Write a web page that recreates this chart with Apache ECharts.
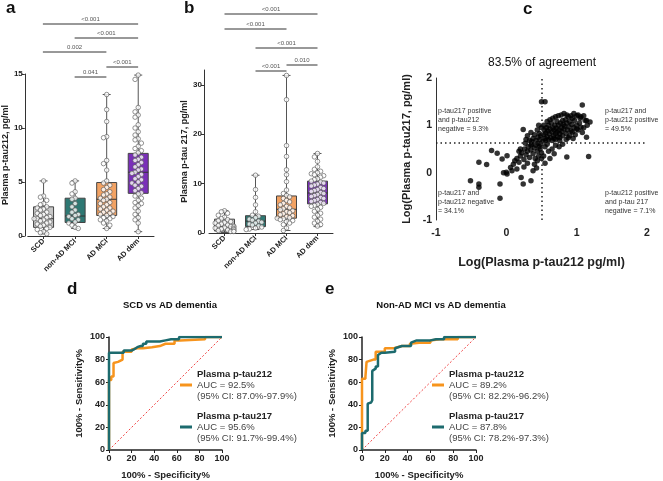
<!DOCTYPE html>
<html><head><meta charset="utf-8">
<script src="https://cdn.jsdelivr.net/npm/echarts@6/dist/echarts.min.js"></script>
<style>html,body{margin:0;padding:0;background:#fff}#c{width:663px;height:481px}</style>
</head><body><div id="c"></div>
<script>
// ---------- DATA ----------
const groups = ['SCD', 'non-AD MCI', 'AD MCI', 'AD dem'];

// Panel a: plasma p-tau212 (pg/ml)
const scd212 = [5.1,3.7,3.6,3.3,3.0,2.9,2.7,2.6,2.5,2.4,2.2,2.1,2.0,1.9,1.8,1.7,1.6,1.6,1.5,1.4,1.3,1.2,1.1,1.0,0.9,0.8,0.7,0.6,0.4,0.3,0.2];
const nonad212 = [5.1,4.9,4.1,3.9,3.5,3.4,3.0,2.7,2.4,2.2,2.0,1.9,1.8,1.6,1.5,1.3,1.2,1.0,0.8,0.7];
const admci212 = [13.1,11.7,10.6,9.2,9.1,7.0,6.7,6.1,5.1,4.9,4.7,4.5,4.3,4.1,3.9,3.8,3.6,3.5,3.4,3.3,3.1,3.0,2.9,2.7,2.6,2.5,2.4,2.3,2.2,2.1,2.0,1.9,1.8,1.7,1.6,1.5,1.4,1.2,1.0,0.7];
const addem212 = [14.9,14.5,11.9,11.5,11.2,11.0,10.3,10.0,9.65,9.35,9.0,8.9,8.6,8.3,8.1,7.9,7.7,7.5,7.3,7.1,7.0,6.8,6.6,6.4,6.2,6.1,5.9,5.8,5.7,5.5,5.3,5.2,5.0,4.9,4.7,4.6,4.4,4.2,4.0,3.9,3.7,3.5,3.3,3.1,3.0,2.8,2.6,2.3,2.0,1.7,1.5,1.2,0.4];
// [min, Q1, median, Q3, max]
const box212 = [[0.2,0.8,1.6,2.7,5.1],[0.7,1.25,1.85,3.5,5.1],[0.7,1.9,3.4,4.95,13.1],[0.4,3.95,5.9,7.65,14.9]];

// Panel b: plasma p-tau217 (pg/ml)
const scd217 = [4.5,4.3,4.0,3.6,3.2,2.9,2.7,2.5,2.3,2.1,2.0,1.8,1.6,1.5,1.4,1.3,1.2,1.1,1.0,0.9,0.8,0.7,0.6,0.5,0.4,0.3,0.3];
const nonad217 = [11.7,8.8,7.2,5.7,4.3,3.6,3.4,3.1,2.8,2.6,2.4,2.2,2.0,1.8,1.6,1.4,1.2,1.0,0.8,0.7];
const admci217 = [31.9,27.0,17.7,15.5,12.8,11.8,10.4,8.7,8.0,7.6,7.3,7.0,6.6,6.3,6.0,5.7,5.4,5.1,4.9,4.7,4.5,4.3,4.1,3.9,3.7,3.5,3.3,3.1,3.0,2.9,2.7,2.5,2.3,2.0,1.7,1.0,0.5];
const addem217 = [16.1,15.4,14.5,13.4,12.9,12.5,12.2,12.0,11.8,11.6,11.3,11.0,10.8,10.5,10.3,10.1,9.9,9.7,9.5,9.2,9.0,8.8,8.6,8.4,8.2,8.0,7.8,7.6,7.4,7.2,7.0,6.8,6.6,6.4,6.2,6.0,5.8,5.6,5.4,5.2,4.8,4.4,4.0,3.6,3.2,2.8,2.4,2.0,1.7,1.4];
const box217 = [[0.1,0.4,1.3,2.8,4.5],[0.7,1.3,2.4,3.5,11.7],[0.5,3.0,4.8,7.5,31.9],[1.3,5.9,8.1,10.5,16.1]];

// Significance brackets: [groupFrom, groupTo], p-value label
const bracketPairsA = [[0,3],[1,3],[0,2],[1,2],[2,3]];
const bracketLabelsA = ['<0.001','<0.001','0.002','0.041','<0.001'];
const bracketPairsB = [[0,3],[0,2],[1,3],[2,3],[1,2]];
const bracketLabelsB = ['<0.001','<0.001','<0.001','0.010','<0.001'];

// Panel c: [log p-tau212, log p-tau217]
const agreementPts = [
 [-0.51,-0.17],[-0.39,-0.24],[-0.39,-0.31],[-0.09,-0.24],[-0.09,-0.54],[-0.04,0.0],[0.01,-0.03],[0.0,0.01],[0.08,0.04],[0.21,-0.1],
 [0.24,-0.24],[0.35,-0.17],[0.38,0.04],[-0.21,0.47],[-0.13,0.41],[0.01,0.36],[-0.39,0.22],[-0.28,0.17],[-0.06,0.29],[0.06,0.11],
 [0.10,0.18],[0.12,0.25],[0.15,0.30],[0.18,0.22],[0.2,0.35],[0.22,0.42],[0.25,0.28],[0.26,0.5],[0.28,0.38],[0.3,0.45],
 [0.31,0.55],[0.33,0.32],[0.35,0.48],[0.36,0.6],[0.38,0.4],[0.4,0.52],[0.41,0.3],[0.42,0.58],[0.44,0.45],[0.45,0.62],
 [0.46,0.35],[0.47,0.55],[0.48,0.5],[0.49,0.6],[0.5,0.42],[0.3,0.2],[0.15,0.08],[0.25,0.12],[0.4,0.18],[0.44,0.25],
 [0.35,0.58],[0.2,0.5],[0.27,0.62],[0.5,0.3],[0.43,0.1],[0.18,0.45],
 [0.24,0.91],[0.28,0.7],[0.3,0.78],[0.33,0.68],[0.35,0.85],[0.38,0.72],[0.4,0.8],[0.42,0.68],[0.44,0.9],[0.45,0.75],
 [0.47,0.83],[0.48,0.7],[0.5,0.95],[0.49,0.78],[0.36,0.66],[0.46,1.0],[0.5,1.5],
 [0.55,1.5],[1.08,1.43],[1.19,1.07],[1.14,0.75],[1.15,1.0],[1.12,1.1],[1.1,0.95],[1.08,0.85],[1.05,1.15],[1.04,1.05],
 [1.02,0.9],[1.0,1.2],[1.0,1.0],[0.98,0.8],[0.97,1.1],[0.96,0.95],[0.95,0.72],[0.94,1.15],[0.93,1.02],[0.92,0.88],
 [0.9,1.08],[0.9,0.78],[0.89,0.97],[0.88,1.18],[0.87,0.9],[0.86,1.05],[0.85,0.7],[0.85,0.83],[0.84,1.12],[0.83,0.98],
 [0.82,0.92],[0.81,1.02],[0.8,0.78],[0.8,1.1],[0.79,0.87],[0.78,0.95],[0.77,1.05],[0.76,0.68],[0.76,0.82],[0.75,0.9],
 [0.74,1.0],[0.73,0.76],[0.72,1.08],[0.72,0.86],[0.71,0.94],[0.7,0.7],[0.7,0.82],[0.69,1.0],[0.68,0.9],[0.67,0.78],
 [0.66,0.95],[0.65,0.68],[0.65,0.86],[0.64,1.05],[0.63,0.74],[0.62,0.92],[0.61,0.82],[0.6,0.7],[0.6,1.0],[0.59,0.88],
 [0.58,0.76],[0.57,0.95],[0.56,0.68],[0.56,0.84],[0.55,0.72],[0.54,0.9],[0.53,0.8],[0.52,0.67],[0.53,1.0],[0.58,1.08],
 [0.62,1.12],[0.66,1.15],[0.7,1.18],[0.74,1.2],[0.78,1.22],[0.82,1.25],[0.86,1.22],[0.92,1.2],[0.96,1.25],[1.02,1.22],
 [1.06,1.18],[1.1,1.2],[1.14,1.1],[0.88,0.74],[0.94,0.86],[1.0,0.92],[1.06,0.96],[0.68,0.72],[0.76,0.74],
 [0.86,0.33],[1.17,0.34],[0.55,0.55],[0.6,0.45],[0.58,0.6],[0.65,0.5],[0.7,0.58],[0.53,0.35],[0.62,0.3],[0.75,0.55],
 [0.55,0.2],[0.68,0.4],[0.8,0.6]
];
const cutoff212 = 0.51;
const cutoff217 = 0.64;
const quadrantTexts = ['p-tau217 positive\nand p-tau212\nnegative = 9.3%','p-tau217 and\np-tau212 positive\n= 49.5%','p-tau217 and\np-tau212 negative\n= 34.1%','p-tau212 positive\nand p-tau 217\nnegative = 7.1%'];

// ROC curves: [100% - Specificity, Sensitivity]
const rocD212 = [[0,0],[0,62],[2,62],[2,65],[4,65],[4,77],[8,78],[12,80],[12,87],[20,87],[20,89],[25,90],[30,90],[30,91],[38,91],[38,92],[45,92],[45,93],[50,94],[58,94],[58,97],[63,97],[63,98],[85,98],[85,100],[100,100]];
const rocD217 = [[0,0],[0,86],[13,86],[13,88],[20,88],[22,89],[25,91],[28,92],[30,92],[30,94],[33,94],[33,96],[45,96],[50,97],[55,98],[62,98],[62,100],[100,100]];
const rocE212 = [[0,0],[0,63],[3,63],[3,65],[4,65],[4,78],[10,80],[12,80],[12,87],[20,87],[20,90],[28,90],[28,91],[35,92],[42,92],[42,94],[50,95],[60,95],[60,97],[68,98],[84,98],[84,100],[100,100]];
const rocE217 = [[0,0],[0,15],[3,15],[3,17],[5,17],[5,41],[8,42],[9,44],[9,70],[12,72],[12,74],[14,74],[14,84],[17,86],[20,86],[20,87],[29,87],[29,90],[35,92],[43,92],[43,95],[48,97],[60,97],[65,98],[72,98],[72,100],[100,100]];
const legendD = {'d212':['Plasma p-tau212','AUC = 92.5%','(95% CI: 87.0%-97.9%)'],'d217':['Plasma p-tau217','AUC = 95.6%','(95% CI: 91.7%-99.4%)']};
const legendE = {'e212':['Plasma p-tau212','AUC = 89.2%','(95% CI: 82.2%-96.2%)'],'e217':['Plasma p-tau217','AUC = 87.8%','(95% CI: 78.2%-97.3%)']};

// ---------- STYLE / LAYOUT ----------
const FONT = "'Liberation Sans', Arial, sans-serif";
const boxColors = ['#C8C8C8', '#2E7873', '#F2A263', '#7A2FB9'];
const ORANGE = '#F7941D', TEAL = '#1D6B6E';
const bracketYA = [24, 38, 52, 77, 67];
const bracketYB = [14, 29, 48, 65, 71];

function swarm(vals, thr, step, maxSlot) {
  const placed = [];
  return vals.map(v => {
    let k = 0;
    while (k < maxSlot && placed.some(p => p.k === k && Math.abs(p.v - v) < thr)) k++;
    placed.push({v, k});
    return k === 0 ? 0 : (k % 2 ? -1 : 1) * Math.ceil(k / 2) * step;
  });
}
function dotData(lists, thr) {
  const out = [];
  lists.forEach((vals, gi) => {
    const offs = swarm(vals, thr, 0.1, 6);
    vals.forEach((v, j) => out.push([gi + offs[j], v]));
  });
  return out;
}
function boxRender(params, api) {
  const i = api.value(0);
  const x = api.coord([i, 0])[0];
  const y = k => api.coord([i, api.value(k)])[1];
  const yMin = y(1), yQ1 = y(2), yMed = y(3), yQ3 = y(4), yMax = y(5);
  const hw = 10, cw = 4, wc = '#555';
  return {type: 'group', children: [
    {type: 'line', shape: {x1: x, y1: yMax, x2: x, y2: yQ3}, style: {stroke: wc, lineWidth: 1}},
    {type: 'line', shape: {x1: x, y1: yQ1, x2: x, y2: yMin}, style: {stroke: wc, lineWidth: 1}},
    {type: 'line', shape: {x1: x - cw, y1: yMax, x2: x + cw, y2: yMax}, style: {stroke: wc, lineWidth: 1}},
    {type: 'line', shape: {x1: x - cw, y1: yMin, x2: x + cw, y2: yMin}, style: {stroke: wc, lineWidth: 1}},
    {type: 'rect', shape: {x: x - hw, y: yQ3, width: 2 * hw, height: yQ1 - yQ3}, style: {fill: boxColors[i], stroke: '#444', lineWidth: 1}},
    {type: 'line', shape: {x1: x - hw, y1: yMed, x2: x + hw, y2: yMed}, style: {stroke: '#333', lineWidth: 1}}
  ]};
}
function bracketRender(labels) {
  return function (params, api) {
    const p1 = api.coord([api.value(0), api.value(2)]);
    const p2 = api.coord([api.value(1), api.value(2)]);
    return {type: 'group', children: [
      {type: 'line', shape: {x1: p1[0], y1: p1[1], x2: p2[0], y2: p2[1]}, style: {stroke: '#333', lineWidth: 1}},
      {type: 'text', style: {x: (p1[0] + p2[0]) / 2, y: p1[1] - 2, text: labels[params.dataIndex], textAlign: 'center', textVerticalAlign: 'bottom', font: '6px ' + FONT, fill: '#555'}}
    ]};
  };
}
const lbl = (size, bold) => ({fontFamily: FONT, fontSize: size, fontWeight: bold ? 'bold' : 'normal', color: '#222'});
const axLine = {show: true, onZero: false, lineStyle: {color: '#333', width: 1}};
const axLineThick = {show: true, onZero: false, lineStyle: {color: '#222', width: 1.5}};
function catX(gi) {
  return {type: 'value', gridIndex: gi, min: -0.5, max: 3.5, axisLine: axLine,
    axisTick: {show: true, customValues: [0,1,2,3], length: 3, lineStyle: {color: '#333'}},
    axisLabel: Object.assign({customValues: [0,1,2,3], formatter: v => groups[v], rotate: 45, margin: 4}, lbl(7.5, true)),
    splitLine: {show: false}};
}
function legendFmt(map) {
  return name => '{b|' + map[name][0] + '}\n{n|' + map[name][1] + '}\n{n|' + map[name][2] + '}';
}
const legendRich = {
  b: {fontFamily: FONT, fontSize: 9.5, fontWeight: 'bold', color: '#222', lineHeight: 11},
  n: {fontFamily: FONT, fontSize: 9.5, color: '#444', lineHeight: 11}
};
function gtext(x, y, text, size, bold, align) {
  return {type: 'text', x: x, y: y, style: {text: text, font: (bold ? 'bold ' : '') + size + 'px ' + FONT, fill: '#111', textAlign: align || 'left', textVerticalAlign: 'top'}};
}
function qtext(x, y, text) {
  return {type: 'text', x: x, y: y, style: {text: text, font: '7px ' + FONT, fill: '#333', lineHeight: 9, textAlign: 'left', textVerticalAlign: 'top'}};
}

const option = {
  animation: false,
  backgroundColor: '#fff',
  grid: [
    {left: 27, top: 74, width: 127, height: 162},
    {left: 209, top: 70, width: 124, height: 163},
    {left: 436, top: 78, width: 211, height: 142},
    {left: 109, top: 337, width: 113, height: 113},
    {left: 362, top: 337, width: 114, height: 113},
    {left: 27, top: 0, width: 127, height: 80},
    {left: 209, top: 0, width: 124, height: 80}
  ],
  xAxis: [
    catX(0), catX(1),
    {type: 'value', gridIndex: 2, min: -1, max: 2, interval: 1, axisLine: {show: false, onZero: false}, axisTick: {show: false},
      axisLabel: Object.assign({margin: 8}, lbl(10.5, true)), splitLine: {show: false},
      name: 'Log(Plasma p-tau212 pg/ml)', nameLocation: 'middle', nameGap: 36, nameTextStyle: lbl(12.5, true)},
    {type: 'value', gridIndex: 3, min: 0, max: 100, interval: 20, axisLine: axLineThick,
      axisTick: {show: true, length: 3, lineStyle: {color: '#222'}}, axisLabel: Object.assign({margin: 4}, lbl(9, true)), splitLine: {show: false},
      name: '100% - Specificity%', nameLocation: 'middle', nameGap: 20, nameTextStyle: lbl(9.5, true)},
    {type: 'value', gridIndex: 4, min: 0, max: 100, interval: 20, axisLine: axLineThick,
      axisTick: {show: true, length: 3, lineStyle: {color: '#222'}}, axisLabel: Object.assign({margin: 4}, lbl(9, true)), splitLine: {show: false},
      name: '100% - Specificity%', nameLocation: 'middle', nameGap: 20, nameTextStyle: lbl(9.5, true)},
    {type: 'value', gridIndex: 5, min: -0.5, max: 3.5, show: false},
    {type: 'value', gridIndex: 6, min: -0.5, max: 3.5, show: false}
  ],
  yAxis: [
    {type: 'value', gridIndex: 0, min: 0, max: 15, interval: 5, offset: 3, axisLine: axLine,
      axisTick: {show: true, length: 3, lineStyle: {color: '#333'}}, axisLabel: Object.assign({margin: 2}, lbl(8, true)), splitLine: {show: false},
      name: 'Plasma p-tau212, pg/ml', nameLocation: 'middle', nameGap: 14, nameTextStyle: lbl(9, true)},
    {type: 'value', gridIndex: 1, min: 0, max: 33, offset: 5, axisLine: axLine,
      axisTick: {show: true, customValues: [0,10,20,30], length: 3, lineStyle: {color: '#333'}},
      axisLabel: Object.assign({customValues: [0,10,20,30], margin: 2}, lbl(8, true)), splitLine: {show: false},
      name: 'Plasma p-tau 217, pg/ml', nameLocation: 'middle', nameGap: 15, nameTextStyle: lbl(9, true)},
    {type: 'value', gridIndex: 2, min: -1, max: 2, interval: 1, axisLine: axLine,
      axisTick: {show: false}, axisLabel: Object.assign({margin: 4}, lbl(10.5, true)), splitLine: {show: false},
      name: 'Log(Plasma p-tau217, pg/ml)', nameLocation: 'middle', nameGap: 24, nameTextStyle: lbl(11, true)},
    {type: 'value', gridIndex: 3, min: 0, max: 100, interval: 20, axisLine: axLineThick,
      axisTick: {show: true, length: 3, lineStyle: {color: '#222'}}, axisLabel: Object.assign({margin: 4}, lbl(9, true)), splitLine: {show: false},
      name: '100% - Sensitivity%', nameLocation: 'middle', nameGap: 25, nameTextStyle: lbl(9.5, true)},
    {type: 'value', gridIndex: 4, min: 0, max: 100, interval: 20, axisLine: axLineThick,
      axisTick: {show: true, length: 3, lineStyle: {color: '#222'}}, axisLabel: Object.assign({margin: 4}, lbl(9, true)), splitLine: {show: false},
      name: '100% - Sensitivity%', nameLocation: 'middle', nameGap: 25, nameTextStyle: lbl(9.5, true)},
    {type: 'value', gridIndex: 5, min: 0, max: 80, inverse: true, show: false},
    {type: 'value', gridIndex: 6, min: 0, max: 80, inverse: true, show: false}
  ],
  legend: [
    {data: ['d212', 'd217'], left: 180, top: 369, orient: 'vertical', padding: 0, itemGap: 10, itemWidth: 12, itemHeight: 3, icon: 'rect', selectedMode: false,
      formatter: legendFmt(legendD), textStyle: {rich: legendRich}},
    {data: ['e212', 'e217'], left: 432, top: 369, orient: 'vertical', padding: 0, itemGap: 10, itemWidth: 12, itemHeight: 3, icon: 'rect', selectedMode: false,
      formatter: legendFmt(legendE), textStyle: {rich: legendRich}}
  ],
  graphic: [
    gtext(6, 0, 'a', 17, true),
    gtext(184, 0, 'b', 17, true),
    gtext(523, 1, 'c', 17, true),
    gtext(67, 281, 'd', 17, true),
    gtext(325, 281, 'e', 17, true),
    gtext(542, 57, '83.5% of agreement', 12, false, 'center'),
    gtext(170, 300, 'SCD vs AD dementia', 9.5, true, 'center'),
    gtext(441, 300, 'Non-AD MCI vs AD dementia', 9.5, true, 'center'),
    qtext(438, 107, quadrantTexts[0]),
    qtext(605, 107, quadrantTexts[1]),
    qtext(438, 189, quadrantTexts[2]),
    qtext(605, 189, quadrantTexts[3])
  ],
  series: [
    {type: 'custom', xAxisIndex: 0, yAxisIndex: 0, renderItem: boxRender, data: box212.map((b, i) => [i].concat(b)), z: 2},
    {type: 'scatter', xAxisIndex: 0, yAxisIndex: 0, symbolSize: 4.5, z: 3,
      itemStyle: {color: '#fff', borderColor: '#555', borderWidth: 0.8},
      data: dotData([scd212, nonad212, admci212, addem212], 0.42)},
    {type: 'custom', xAxisIndex: 1, yAxisIndex: 1, renderItem: boxRender, data: box217.map((b, i) => [i].concat(b)), z: 2},
    {type: 'scatter', xAxisIndex: 1, yAxisIndex: 1, symbolSize: 4.5, z: 3,
      itemStyle: {color: '#fff', borderColor: '#555', borderWidth: 0.8},
      data: dotData([scd217, nonad217, admci217, addem217], 0.95)},
    {type: 'custom', xAxisIndex: 5, yAxisIndex: 5, renderItem: bracketRender(bracketLabelsA), clip: false,
      data: bracketPairsA.map((p, i) => [p[0], p[1], bracketYA[i]])},
    {type: 'custom', xAxisIndex: 6, yAxisIndex: 6, renderItem: bracketRender(bracketLabelsB), clip: false,
      data: bracketPairsB.map((p, i) => [p[0], p[1], bracketYB[i]])},
    {type: 'scatter', xAxisIndex: 2, yAxisIndex: 2, symbolSize: 5.5, itemStyle: {color: '#000'}, data: agreementPts,
      markLine: {silent: true, symbol: 'none', label: {show: false},
        lineStyle: {color: '#222', type: [1.5, 3], width: 1.5},
        data: [{xAxis: cutoff212}, {yAxis: cutoff217}]}},
    {type: 'line', xAxisIndex: 3, yAxisIndex: 3, data: [[0,0],[100,100]], showSymbol: false, silent: true,
      lineStyle: {color: '#F04545', width: 1, type: [2, 2]}},
    {type: 'line', xAxisIndex: 4, yAxisIndex: 4, data: [[0,0],[100,100]], showSymbol: false, silent: true,
      lineStyle: {color: '#F04545', width: 1, type: [2, 2]}},
    {name: 'd212', type: 'line', xAxisIndex: 3, yAxisIndex: 3, data: rocD212, showSymbol: false, color: ORANGE, lineStyle: {width: 2.5}},
    {name: 'd217', type: 'line', xAxisIndex: 3, yAxisIndex: 3, data: rocD217, showSymbol: false, color: TEAL, lineStyle: {width: 2.5}},
    {name: 'e212', type: 'line', xAxisIndex: 4, yAxisIndex: 4, data: rocE212, showSymbol: false, color: ORANGE, lineStyle: {width: 2.5}},
    {name: 'e217', type: 'line', xAxisIndex: 4, yAxisIndex: 4, data: rocE217, showSymbol: false, color: TEAL, lineStyle: {width: 2.5}}
  ]
};
const chart = echarts.init(document.getElementById('c'));
chart.setOption(option);
</script>
</body></html>
